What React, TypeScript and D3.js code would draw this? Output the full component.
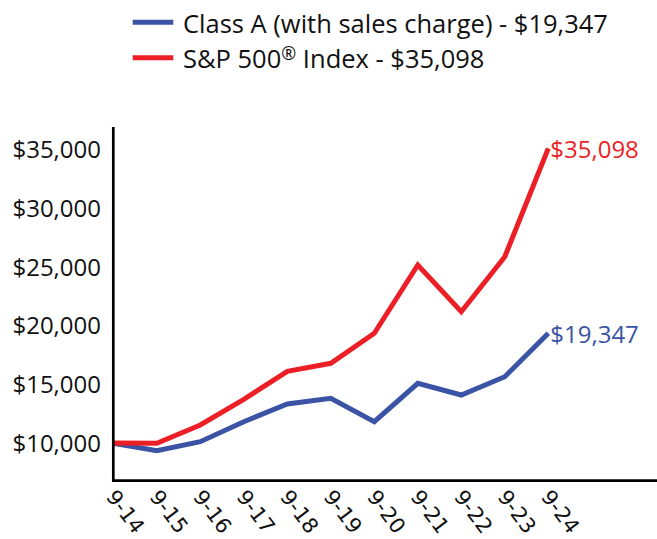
import React from "react";
import * as d3 from "d3";

const categories = ["9-14", "9-15", "9-16", "9-17", "9-18", "9-19", "9-20", "9-21", "9-22", "9-23", "9-24"];
const classA = [9974, 9344, 10111, 11814, 13322, 13807, 11814, 15085, 14089, 15647, 19347];
const sp500 = [10000, 9974, 11533, 13722, 16107, 16789, 19344, 25162, 21184, 25869, 35098];
const yTicks = [10000, 15000, 20000, 25000, 30000, 35000];
const legendA = "Class A (with sales charge) - $19,347";
const legendSP = ["S&P 500", "®", " Index - $35,098"];
const endLabelA = "$19,347";
const endLabelSP = "$35,098";

const BLUE = "#3a53a4";
const RED = "#ed1f26";
const FONT = "'Open Sans', 'Noto Sans', sans-serif";

export default function App() {
  const W = 657, H = 539;
  const x = d3.scaleLinear().domain([0, categories.length - 1]).range([113.3, 548.3]);
  const y = d3.scaleLinear().domain([6790, 36920]).range([480.7, 127]);
  const [y0, y1] = y.range();
  const axisRight = x(12.5);
  const line = d3
    .line<number>()
    .x((_, i) => x(i))
    .y((d) => y(d));
  const fmt = (v: number) => "$" + d3.format(",")(v);
  const last = categories.length - 1;

  return (
    <svg width={W} height={H} style={{ position: "absolute", left: 0, top: 0, background: "#fff" }}>
      {/* legend */}
      <line x1={132.7} x2={173.3} y1={22.3} y2={22.3} stroke={BLUE} strokeWidth={5} />
      <text x={183} y={32.5} fontFamily={FONT} fontSize={25.5} fill="#111">
        {legendA}
      </text>
      <line x1={132.7} x2={173.3} y1={57.7} y2={57.7} stroke={RED} strokeWidth={5} />
      <text x={183} y={68} fontFamily={FONT} fontSize={25.5} fill="#111">
        {legendSP[0]}
        <tspan dy={-8} fontSize={18}>{legendSP[1]}</tspan>
        <tspan dy={8}>{legendSP[2]}</tspan>
      </text>

      {/* y axis labels */}
      {yTicks.map((t) => (
        <text key={t} x={101} y={y(t) + 8.8} textAnchor="end" fontFamily={FONT} fontSize={24} fill="#111">
          {fmt(t)}
        </text>
      ))}

      {/* x labels */}
      {categories.map((c, i) => (
        <text
          key={c}
          transform={`translate(${x(i) - 8},497) rotate(53)`}
          fontFamily="'DejaVu Sans', sans-serif"
          fontSize={21}
          fill="#111"
        >
          {c}
        </text>
      ))}

      {/* lines */}
      <path d={line(classA) || ""} fill="none" stroke={BLUE} strokeWidth={5} strokeLinejoin="miter" />
      <path d={line(sp500) || ""} fill="none" stroke={RED} strokeWidth={5} strokeLinejoin="miter" />

      {/* end labels */}
      <text x={x(last) + 2} y={y(sp500[last]) + 10} fontFamily={FONT} fontSize={24} fill={RED}>
        {endLabelSP}
      </text>
      <text x={x(last) + 2} y={y(classA[last]) + 10} fontFamily={FONT} fontSize={24} fill={BLUE}>
        {endLabelA}
      </text>

      {/* axes */}
      <path
        d={`M${x(0)},${y1}V${y0}H${axisRight}`}
        fill="none"
        stroke="#000"
        strokeWidth={2.7}
      />
    </svg>
  );
}
